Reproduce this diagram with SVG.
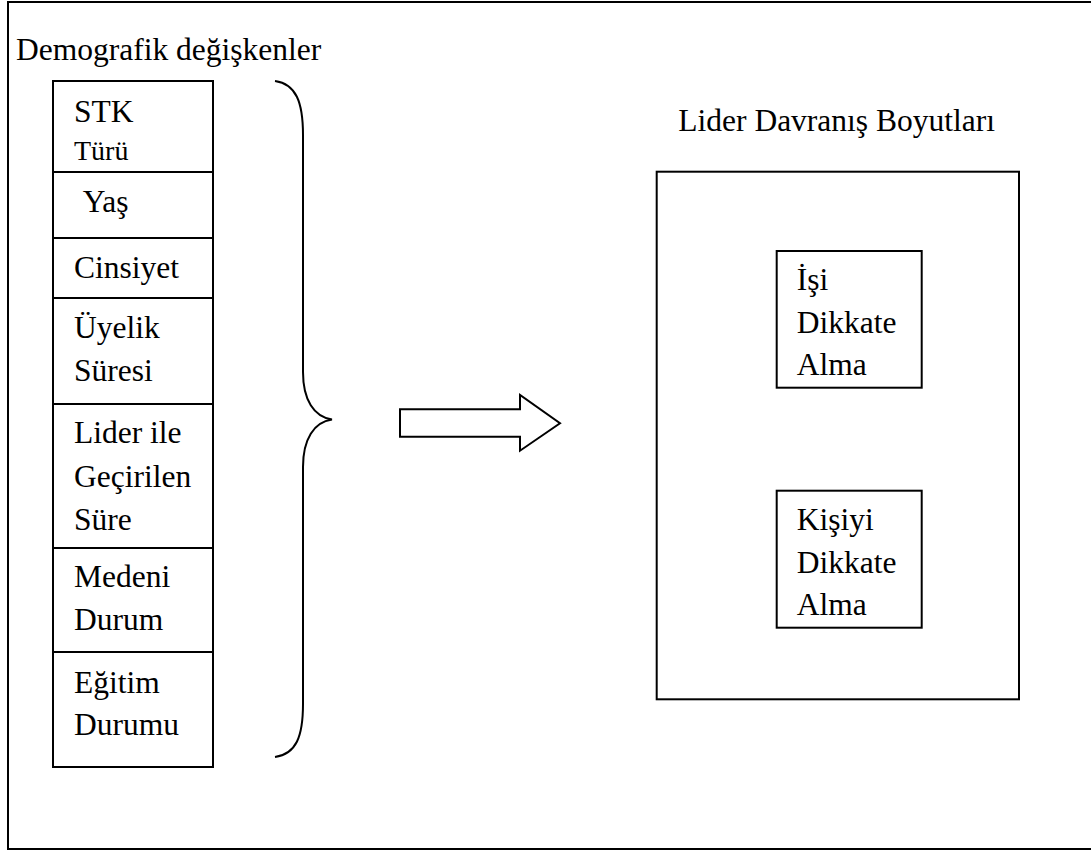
<svg xmlns="http://www.w3.org/2000/svg" width="1091" height="850" viewBox="0 0 1091 850">
  <style>
    .box { fill: #ffffff; stroke: #000000; stroke-width: 2; }
    .line { fill: none; stroke: #000000; stroke-width: 2; }
    .t { font-family: "Liberation Serif", "Times New Roman", serif; font-size: 31.5px; fill: #000000; }
    .ts { font-family: "Liberation Serif", "Times New Roman", serif; font-size: 28px; fill: #000000; }
  </style>
  <rect width="1091" height="850" fill="#ffffff"/>

  <!-- outer frame (right side runs past the page edge) -->
  <rect id="frame" class="box" x="8" y="2" width="1100" height="847"/>

  <text class="t" x="16" y="60">Demografik değişkenler</text>

  <!-- demographic variables column -->
  <g id="stk">
    <rect class="box" x="53" y="81" width="160" height="91"/>
    <text class="t" x="74" y="121.7">STK</text>
    <text class="ts" x="74" y="160">Türü</text>
  </g>
  <g id="yas">
    <rect class="box" x="53" y="172" width="160" height="66"/>
    <text class="t" x="82.7" y="211.7">Yaş</text>
  </g>
  <g id="cinsiyet">
    <rect class="box" x="53" y="238" width="160" height="60"/>
    <text class="t" x="74" y="278.3">Cinsiyet</text>
  </g>
  <g id="uyelik">
    <rect class="box" x="53" y="298" width="160" height="106"/>
    <text class="t" x="74" y="338.3">Üyelik</text>
    <text class="t" x="74" y="380.7">Süresi</text>
  </g>
  <g id="lider-sure">
    <rect class="box" x="53" y="404" width="160" height="144"/>
    <text class="t" x="74" y="443.3">Lider ile</text>
    <text class="t" x="74" y="486.7">Geçirilen</text>
    <text class="t" x="74" y="530">Süre</text>
  </g>
  <g id="medeni">
    <rect class="box" x="53" y="548" width="160" height="104"/>
    <text class="t" x="74" y="587.3">Medeni</text>
    <text class="t" x="74" y="630">Durum</text>
  </g>
  <g id="egitim">
    <rect class="box" x="53" y="652" width="160" height="115"/>
    <text class="t" x="74" y="692.7">Eğitim</text>
    <text class="t" x="74" y="735">Durumu</text>
  </g>

  <g id="connectors">
    <!-- curly brace grouping the variables -->
    <path class="line" d="M275,81 C296,84 303,102 303,135 L303,372 C303,400 314,417 332,419.5 C314,422 303,439 303,467 L303,704 C303,737 296,754 275,757"/>
    <!-- block arrow -->
    <path class="line" d="M400,409.3 L520,409.3 L520,395 L560,423.3 L520,450.7 L520,436.7 L400,436.7 Z"/>
  </g>

  <text class="t" x="678.3" y="130.7">Lider Davranış Boyutları</text>

  <g id="lider-davranis">
    <rect class="box" x="656.7" y="171.7" width="362.3" height="527.6"/>
  </g>
  <g id="isi-dikkate">
    <rect class="box" x="776.7" y="251" width="145" height="136.7"/>
    <text class="t" x="796.7" y="290">İşi</text>
    <text class="t" x="796.7" y="333.3">Dikkate</text>
    <text class="t" x="796.7" y="375">Alma</text>
  </g>
  <g id="kisiyi-dikkate">
    <rect class="box" x="776.7" y="490.7" width="145" height="137"/>
    <text class="t" x="796.7" y="530">Kişiyi</text>
    <text class="t" x="796.7" y="572.7">Dikkate</text>
    <text class="t" x="796.7" y="615">Alma</text>
  </g>
</svg>
